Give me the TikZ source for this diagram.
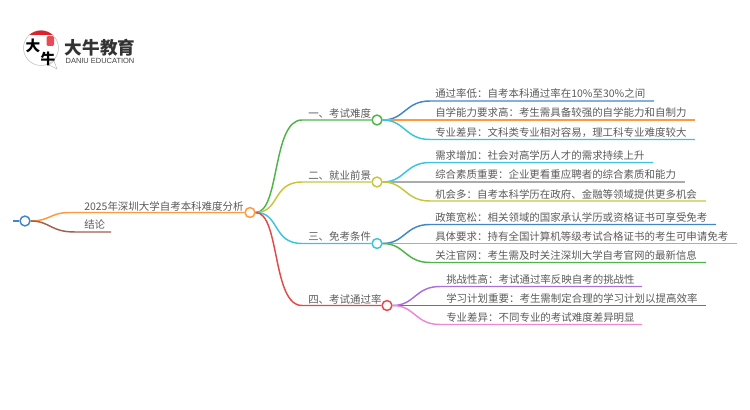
\documentclass[tikz,border=0pt]{standalone}
\usepackage{fontspec}
\setmainfont{Noto Sans CJK SC}
\setsansfont{Liberation Sans}
\usepackage[svgnames, dvipsnames]{xcolor}
\usetikzlibrary{positioning}
\definecolor{txtgray}{HTML}{5A5A5A}
\definecolor{cblue}{HTML}{3F88C8}
\definecolor{corange}{HTML}{FF9A3C}
\definecolor{ccyan}{HTML}{38C6DE}
\definecolor{cgreen}{HTML}{4DB548}
\definecolor{colive}{HTML}{C6C63C}
\definecolor{cred}{HTML}{E24A4A}
\definecolor{cgray}{HTML}{ABABAB}
\definecolor{cpurple}{HTML}{A870D8}
\definecolor{cbrown}{HTML}{A0604F}
\definecolor{cpink}{HTML}{EE88D2}
\definecolor{logored}{HTML}{E0202A}
\tikzset{
  dot/.style={circle,draw=#1,fill=white,line width=1.1pt,minimum size=7.4pt,inner sep=0pt},
  link/.style={draw=#1,line width=1.1pt},
  lab/.style={anchor=west,inner sep=0pt,text=txtgray,font=\fontsize{7.85pt}{10pt}\selectfont}
}
\begin{document}
\begin{tikzpicture}[x=0.75pt,y=-0.75pt]
\useasboundingbox (0,0) rectangle (750,410);
% logo
\fill[white,draw=gray!50,line width=0.4pt] (49,65) -- (57,69) -- (54,61) -- cycle;
\draw[gray!50,fill=white,line width=0.4pt] (41,48) circle (17.5);
\begin{scope}
\clip (41,48) circle (17.5);
\fill[logored] (23,30) rectangle (59,35);
\end{scope}
\node[inner sep=0pt,font=\bfseries\fontsize{11pt}{11pt}\selectfont] (logoa) at (33,45.5) {大};
\node[inner sep=0pt,font=\bfseries\fontsize{11pt}{11pt}\selectfont] (logob) at (48,59) {牛};
\fill[logored!80,rounded corners=1pt] (46.5,36) rectangle (54,46);
\node[inner sep=0pt,font=\bfseries\fontsize{13.2pt}{14pt}\selectfont,text=black!80] (logoc) at (100,47.5) {大牛教育};
\node[inner sep=0pt,font=\sffamily\fontsize{5.6pt}{6pt}\selectfont,text=black!75,below=1pt of logoc] (logod) {DANIU EDUCATION};
% root
\node[dot=cblue] (root) at (25,221) {};
\coordinate (rootl) at (13,221);
\node[dot=corange] (main) at (250,212.5) {};
\coordinate (mainb) at (70,212.5);
\coordinate (endb) at (75,232);
\coordinate (endc) at (111,232);
\draw[link=cblue] (rootl) -- (root);
\draw[link=corange] (root.east) .. controls (50,221) and (50,212.5) .. (mainb) -- (main);
\draw[link=cbrown] (root.east) .. controls (50,221) and (50,232) .. (endb) -- (endc);
\node[lab] (maint) at (84,206) {2025年深圳大学自考本科难度分析};
\node[lab] (endt) at (84,225) {结论};
% level two
\node[dot=cgreen] (n1) at (377,120) {};
\node[dot=colive] (n2) at (377,182) {};
\node[dot=ccyan] (n3) at (377,243.5) {};
\node[dot=cred] (n4) at (387,305.5) {};
\coordinate (b1) at (302,120);
\coordinate (b2) at (302,182);
\coordinate (b3) at (302,243.5);
\coordinate (b4) at (302,305.5);
\draw[link=cgreen] (main.east) .. controls (280,212.5) and (272,120) .. (b1) -- (n1);
\draw[link=colive] (main.east) .. controls (280,212.5) and (272,182) .. (b2) -- (n2);
\draw[link=ccyan] (main.east) .. controls (280,212.5) and (272,243.5) .. (b3) -- (n3);
\draw[link=cred] (main.east) .. controls (280,212.5) and (272,305.5) .. (b4) -- (n4);
\node[lab] (n1t) at (308,113.5) {一、考试难度};
\node[lab] (n2t) at (308,175.5) {二、就业前景};
\node[lab] (n3t) at (308,237) {三、免考条件};
\node[lab] (n4t) at (308,299) {四、考试通过率};
% leaves one
\coordinate (a1) at (430,101);   \coordinate (e1) at (654,101);
\coordinate (a2) at (430,120);   \coordinate (e2) at (695,120);
\coordinate (a3) at (430,139.5); \coordinate (e3) at (695,139.5);
\draw[link=cblue] (n1.east) .. controls (405,120) and (405,101) .. (a1) -- (e1);
\draw[link=corange] (n1.east) -- (a2) -- (e2);
\draw[link=ccyan] (n1.east) .. controls (405,120) and (405,139.5) .. (a3) -- (e3);
\node[lab] (t1) at (435,94) {通过率低：自考本科通过率在10\%至30\%之间};
\node[lab] (t2) at (435,113) {自学能力要求高：考生需具备较强的自学能力和自制力};
\node[lab] (t3) at (435,132.5) {专业差异：文科类专业相对容易，理工科专业难度较大};
% leaves two
\coordinate (a4) at (430,162.5); \coordinate (e4) at (653,162.5);
\coordinate (a5) at (430,182);   \coordinate (e5) at (685,182);
\coordinate (a6) at (430,201);   \coordinate (e6) at (706,201);
\draw[link=ccyan] (n2.east) .. controls (405,182) and (405,162.5) .. (a4) -- (e4);
\draw[link=cgray] (n2.east) -- (a5) -- (e5);
\draw[link=colive] (n2.east) .. controls (405,182) and (405,201) .. (a6) -- (e6);
\node[lab] (t4) at (435,155.5) {需求增加：社会对高学历人才的需求持续上升};
\node[lab] (t5) at (435,175) {综合素质重要：企业更看重应聘者的综合素质和能力};
\node[lab] (t6) at (435,194) {机会多：自考本科学历在政府、金融等领域提供更多机会};
% leaves three
\coordinate (a7) at (430,224.5); \coordinate (e7) at (716,224.5);
\coordinate (a8) at (430,243.5); \coordinate (e8) at (737,243.5);
\coordinate (a9) at (430,262.5); \coordinate (e9) at (706,262.5);
\draw[link=cblue] (n3.east) .. controls (405,243.5) and (405,224.5) .. (a7) -- (e7);
\draw[link=corange] (n3.east) -- (a8) -- (e8);
\draw[link=cgreen] (n3.east) .. controls (405,243.5) and (405,262.5) .. (a9) -- (e9);
\node[lab] (t7) at (435,217.5) {政策宽松：相关领域的国家承认学历或资格证书可享受免考};
\node[lab] (t8) at (435,236.5) {具体要求：持有全国计算机等级考试合格证书的考生可申请免考};
\node[lab] (t9) at (435,255.5) {关注官网：考生需及时关注深圳大学自考官网的最新信息};
% leaves four
\coordinate (a10) at (440,286.5); \coordinate (e10) at (642,286.5);
\coordinate (a11) at (440,305.5); \coordinate (e11) at (706,305.5);
\coordinate (a12) at (440,324.5); \coordinate (e12) at (642,324.5);
\draw[link=cpurple] (n4.east) .. controls (415,305.5) and (415,286.5) .. (a10) -- (e10);
\draw[link=cbrown] (n4.east) -- (a11) -- (e11);
\draw[link=cpink] (n4.east) .. controls (415,305.5) and (415,324.5) .. (a12) -- (e12);
\node[lab] (t10) at (446,279.5) {挑战性高：考试通过率反映自考的挑战性};
\node[lab] (t11) at (446,298.5) {学习计划重要：考生需制定合理的学习计划以提高效率};
\node[lab] (t12) at (446,317.5) {专业差异：不同专业的考试难度差异明显};
\end{tikzpicture}
\end{document}
